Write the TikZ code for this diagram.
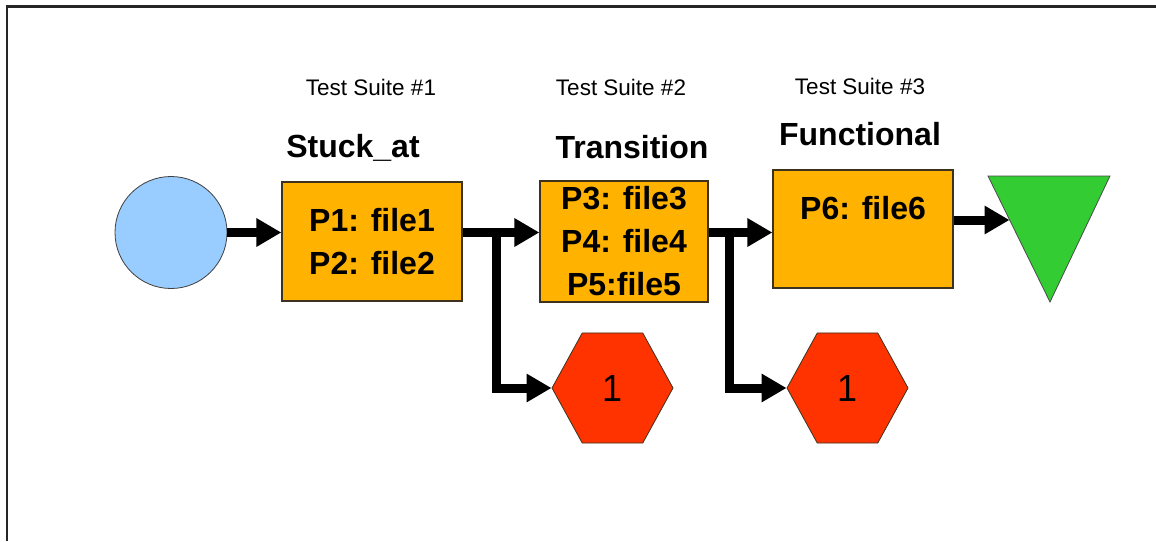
\documentclass[tikz,border=0pt]{standalone}
\usepackage{fontspec}
\setmainfont{Liberation Sans}
\usetikzlibrary{arrows.meta,shapes.geometric}
\definecolor{cblue}{RGB}{153,204,255}
\definecolor{corange}{RGB}{255,178,0}
\definecolor{cred}{RGB}{255,51,0}
\definecolor{cgreen}{RGB}{51,204,51}
\definecolor{cedge}{RGB}{60,50,30}
\tikzset{
  startst/.style={circle, fill=cblue, draw=black!75, line width=0.8pt, minimum size=112pt, inner sep=0pt},
  boxst/.style={rectangle, fill=corange, draw=cedge, line width=1.2pt, inner sep=0pt, align=center,
    font=\fontsize{32}{43}\selectfont\bfseries},
  hexst/.style={regular polygon, regular polygon sides=6, fill=cred, draw=cedge, line width=0.8pt,
    minimum size=121pt, inner sep=0pt, font=\fontsize{36}{40}\selectfont},
  suite/.style={anchor=base, inner sep=0pt, font=\fontsize{22.5}{26}\selectfont},
  head/.style={anchor=base, inner sep=0pt, font=\fontsize{32}{36}\selectfont\bfseries},
  arr/.style={line width=9pt, -{Triangle[length=25pt,width=27pt]}},
}
\begin{document}
\begin{tikzpicture}[x=1pt,y=-1pt]
\useasboundingbox (0,0) rectangle (1156,541);
\fill[white] (0,0) rectangle (1156,541);
\draw[line width=2.5pt, black!85] (7,541) -- (7,6.5) -- (1156,6.5);

% headings
\node[suite] (s1) at (371,95) {Test Suite \#1};
\node[suite] (s2) at (621,95) {Test Suite \#2};
\node[suite] (s3) at (860,94) {Test Suite \#3};
\node[head] (n1) at (353,157) {Stuck\_at};
\node[head] (n2) at (632,158) {Transition};
\node[head] (n3) at (860,145) {Functional};

% shapes
\node[startst] (c) at (171,232.5) {};
\node[boxst, minimum width=180pt, minimum height=119pt] (b1) at (372,241.5) {P1: file1\\P2: file2};
\node[boxst, minimum width=168pt, minimum height=121pt] (b2) at (624,241.5) {P3: file3\\P4: file4\\P5:file5};
\node[boxst, minimum width=180pt, minimum height=118pt, text depth=43pt] (b3) at (863,229) {P6: file6};
\node[hexst, yscale=1.05] (h1) at (612.5,388) {1};
\node[hexst, yscale=1.05] (h2) at (847.5,388) {1};
\filldraw[fill=cgreen, draw=black!70, line width=0.8pt] (988,176) -- (1110,176) -- (1050,302) -- cycle;
\coordinate (t) at (1009.5,220);

% connectors
\coordinate (j1) at (496,232.5);
\coordinate (j2) at (729,232.5);
\draw[arr] (c.east) -- (c.east -| b1.west);
\draw[arr] (b1.east |- c.east) -- (b2.west |- c.east);
\draw[arr] (j1) |- (h1.west);
\draw[arr] (b2.east |- c.east) -- (b3.west |- c.east);
\draw[arr] (j2) |- (h2.west);
\draw[arr] (b3.east |- t) -- (t);
\end{tikzpicture}
\end{document}
